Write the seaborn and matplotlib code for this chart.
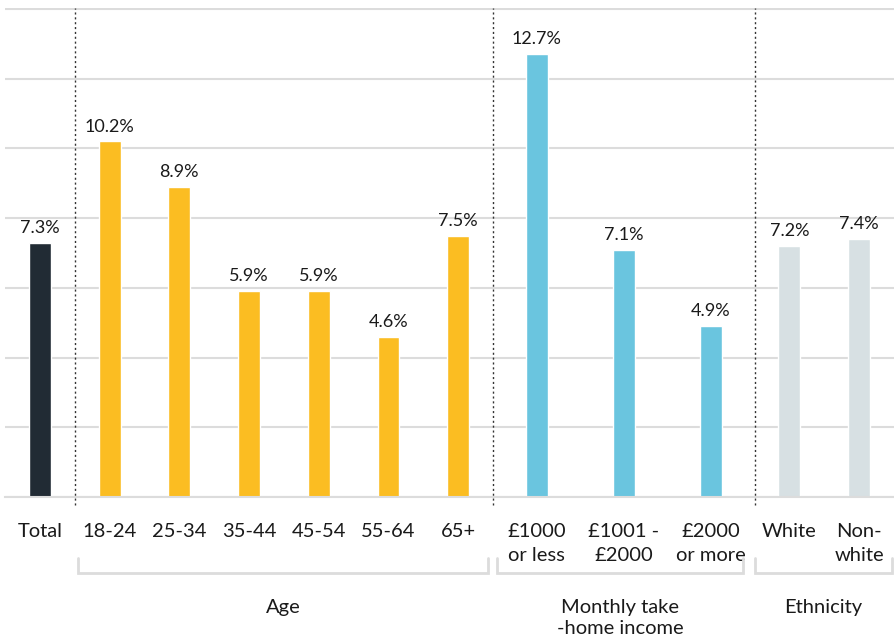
import numpy as np
import pandas as pd
import matplotlib
matplotlib.use("Agg")
import matplotlib.pyplot as plt
import seaborn as sns

# data
categories = ["Total", "18-24", "25-34", "35-44", "45-54", "55-64", "65+",
              "£1000\nor less", "£1001 -\n£2000", "£2000\nor more",
              "White", "Non-\nwhite"]
values = [7.3, 10.2, 8.9, 5.9, 5.9, 4.6, 7.5, 12.7, 7.1, 4.9, 7.2, 7.4]
groups = ["Total"] + ["Age"] * 6 + ["Income"] * 3 + ["Ethnicity"] * 2
group_titles = {"Age": "Age", "Income": "Monthly take\n-home income", "Ethnicity": "Ethnicity"}
colors = {"Total": "#212b34", "Age": "#fbbd22", "Income": "#6ac5df", "Ethnicity": "#d7e0e3"}

# slot width per group (income slots are a bit wider in the original)
slot = {"Total": 1.0, "Age": 1.0, "Income": 1.25, "Ethnicity": 1.0}
widths = np.array([slot[g] for g in groups])
edges = np.concatenate([[0], np.cumsum(widths)]) - 0.5
pos = (edges[:-1] + edges[1:]) / 2

df = pd.DataFrame({"pos": pos, "value": values, "group": groups, "label": categories})

sns.set_style("white")
plt.rcParams["font.family"] = ["Lato", "DejaVu Sans"]

fig = plt.figure(figsize=(8.94, 6.39), dpi=100)
ax = fig.add_axes([5 / 894, 1 - 497 / 639, 889 / 894, 489 / 639])

sns.barplot(data=df, x="pos", y="value", hue="group", palette=colors,
            native_scale=True, dodge=False, width=0.315, legend=False,
            saturation=1, ax=ax)

for c in ax.containers:
    ax.bar_label(c, fmt="{:.1f}%", padding=5, fontsize=13, color="#1a1a1a")

ax.set_xlim(edges[0], edges[-1])
ax.set_ylim(0, 14.03)
ax.set_yticks(np.arange(0, 15, 2))
ax.set_yticklabels([])
ax.tick_params(axis="y", length=0)
ax.grid(axis="y", color="#dcdcdc", lw=1.5)
ax.set_axisbelow(True)
for s in ["left", "right", "top"]:
    ax.spines[s].set_visible(False)
ax.spines["bottom"].set_color("#dcdcdc")
ax.spines["bottom"].set_linewidth(1.5)

ax.set_xticks(pos)
ax.set_xticklabels(categories, fontsize=14.5, color="#1a1a1a", linespacing=1.5)
ax.tick_params(axis="x", which="major", length=0, pad=19)

# group boundaries: dotted separators, tick marks elsewhere
sep_idx = [1, 7, 10]
separators = edges[sep_idx]
minor = [e for i, e in enumerate(edges) if i not in sep_idx]
ax.set_xticks(minor, minor=True)
ax.tick_params(axis="x", which="minor", length=8, width=1.5, color="#dcdcdc")
ax.set_xlabel("")
ax.set_ylabel("")

for x in separators:
    ax.axvline(x, ymin=-0.016, ymax=1, color="#333333", lw=1,
               ls=(0, (1.5, 2)), clip_on=False)

# brackets under groups
tr = ax.get_xaxis_transform()
y_lo, y_hi = -0.1554, -0.1247
for g, (a, b) in {"Age": (edges[1] + 0.05, edges[7] - 0.08),
                  "Income": (edges[7] + 0.06, edges[10] - 0.17),
                  "Ethnicity": (edges[10] + 0.0, edges[12] - 0.03)}.items():
    ax.plot([a, a, b, b], [y_hi, y_lo, y_lo, y_hi], color="#dcdcdc", lw=2,
            transform=tr, clip_on=False, solid_joinstyle="miter")
    ax.text((a + b) / 2, -0.209, group_titles[g], transform=tr, ha="center",
            va="top", fontsize=14.5, color="#1a1a1a", linespacing=1.3)

sns.despine(ax=ax, left=True)
fig.savefig("out.png", dpi=100)
